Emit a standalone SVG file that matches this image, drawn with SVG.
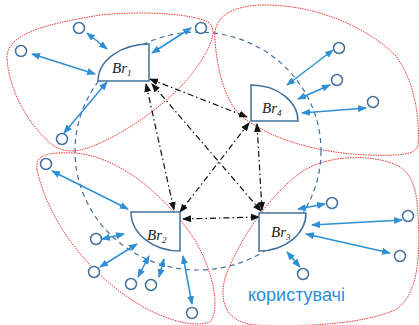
<svg xmlns="http://www.w3.org/2000/svg" width="419" height="325" viewBox="0 0 419 325">
<style>
.blob{fill:none;stroke:#f03030;stroke-width:1;stroke-dasharray:1.5 1}
.ring{fill:none;stroke:#41719c;stroke-width:1.2;stroke-dasharray:5 4}
.br{fill:#fff;stroke:#41719c;stroke-width:1.5}
.u{fill:#fff;stroke:#41719c;stroke-width:1.5}
.ua{stroke:#2e8fd4;stroke-width:1.5;fill:none;marker-start:url(#ab);marker-end:url(#ab)}
.ka{stroke:#111;stroke-width:1.2;fill:none;stroke-dasharray:6 3 1.5 3;marker-start:url(#ak);marker-end:url(#ak)}
.lbl{font-family:"Liberation Serif",serif;font-style:italic;font-size:15px;fill:#1a1a1a}
.sub{font-size:9px}
.t{font-family:"Liberation Sans",Arial,sans-serif;font-size:18px;fill:#2e8fd4}
</style>
<defs>
<marker id="ab" markerUnits="userSpaceOnUse" markerWidth="9" markerHeight="7" refX="8" refY="3.5" orient="auto-start-reverse"><path d="M0,0 L9,3.5 L0,7 Z" fill="#2e8fd4"/></marker>
<marker id="ak" markerUnits="userSpaceOnUse" markerWidth="9" markerHeight="7" refX="8" refY="3.5" orient="auto-start-reverse"><path d="M0,0 L9,3.5 L0,7 Z" fill="#111"/></marker>
</defs>
<g id="zones">
<path class="blob" d="M7,60 C5,35 40,25 100,15 C150,10 195,15 208,22 C218,30 212,45 197,67 C180,92 140,125 100,143 C80,152 65,155 50,143 C25,120 10,90 7,60 Z"/>
<path class="blob" d="M215,40 C212,15 235,5 265,5 C320,5 370,30 395,55 C415,80 420,120 418,145 C416,155 400,156 367,155 C320,153 270,140 240,115 C225,100 217,70 215,40 Z"/>
<path class="blob" d="M37,170 C35,155 45,152 75,153 C120,157 165,195 195,240 C215,275 220,310 210,322 C195,328 165,320 140,305 C90,275 50,225 37,170 Z"/>
<path class="blob" d="M400,167 C380,155 330,152 300,173 C265,200 240,240 226,275 C218,300 225,322 255,325 C300,327 360,325 395,310 C420,295 420,250 418,215 C417,190 412,175 400,167 Z"/>
</g>
<ellipse id="ring" class="ring" cx="198" cy="151" rx="123" ry="119"/>
<g id="connectors">
<line class="ka" x1="150" y1="79" x2="247" y2="117"/>
<line class="ka" x1="146" y1="84" x2="174" y2="210"/>
<line class="ka" x1="152" y1="84" x2="261" y2="211"/>
<line class="ka" x1="249" y1="123" x2="180" y2="212"/>
<line class="ka" x1="257" y1="124" x2="262" y2="210"/>
<line class="ka" x1="183" y1="219" x2="259" y2="217"/>
<line class="ua" x1="87" y1="33" x2="107" y2="49"/>
<line class="ua" x1="32" y1="54" x2="95" y2="74"/>
<line class="ua" x1="64" y1="133" x2="107" y2="82"/>
<line class="ua" x1="152" y1="53" x2="191" y2="28"/>
<line class="ua" x1="287" y1="85" x2="333" y2="50"/>
<line class="ua" x1="298" y1="99" x2="330" y2="85"/>
<line class="ua" x1="302" y1="113" x2="366" y2="108"/>
<line class="ua" x1="52" y1="171" x2="128" y2="209"/>
<line class="ua" x1="102" y1="239" x2="124" y2="234"/>
<line class="ua" x1="100" y1="267" x2="137" y2="244"/>
<line class="ua" x1="138" y1="277" x2="149" y2="256"/>
<line class="ua" x1="159" y1="277" x2="164" y2="259"/>
<line class="ua" x1="192" y1="304" x2="183" y2="256"/>
<line class="ua" x1="298" y1="209" x2="325" y2="204"/>
<line class="ua" x1="312" y1="225" x2="402" y2="220"/>
<line class="ua" x1="306" y1="234" x2="390" y2="253"/>
<line class="ua" x1="287" y1="252" x2="300" y2="267"/>
</g>
<g id="br1"><path class="br" d="M98,81 A51,37 0 0 1 149,44 L149,81 Z"/><text class="lbl" x="112" y="73">Br<tspan class="sub" dy="3">1</tspan></text></g>
<g id="br4"><path class="br" d="M251,85 A47,36 0 0 1 298,121 L251,121 Z"/><text class="lbl" x="262" y="113">Br<tspan class="sub" dy="3">4</tspan></text></g>
<g id="br2"><path class="br" d="M131,212 A49,39 0 0 0 180,251 L180,212 Z"/><text class="lbl" x="147" y="240">Br<tspan class="sub" dy="3">2</tspan></text></g>
<g id="br3"><path class="br" d="M259,213 L306,213 A47,38 0 0 1 259,251 Z"/><text class="lbl" x="271" y="237">Br<tspan class="sub" dy="3">3</tspan></text></g>
<g id="users">
<circle class="u" cx="79" cy="28" r="5.5"/>
<circle class="u" cx="21" cy="51" r="5.5"/>
<circle class="u" cx="62" cy="139" r="5.5"/>
<circle class="u" cx="201" cy="28" r="5.5"/>
<circle class="u" cx="339" cy="48" r="5.5"/>
<circle class="u" cx="337" cy="80" r="5.5"/>
<circle class="u" cx="373" cy="102" r="5.5"/>
<circle class="u" cx="46" cy="164" r="5.5"/>
<circle class="u" cx="96" cy="239" r="5.5"/>
<circle class="u" cx="94" cy="272" r="5.5"/>
<circle class="u" cx="131" cy="284" r="5.5"/>
<circle class="u" cx="151" cy="285" r="5.5"/>
<circle class="u" cx="192" cy="313" r="5.5"/>
<circle class="u" cx="332" cy="203" r="5.5"/>
<circle class="u" cx="408" cy="216" r="5.5"/>
<circle class="u" cx="400" cy="256" r="5.5"/>
<circle class="u" cx="303" cy="274" r="5.5"/>
</g>
<text class="t" x="248" y="301">користувачі</text>
</svg>
